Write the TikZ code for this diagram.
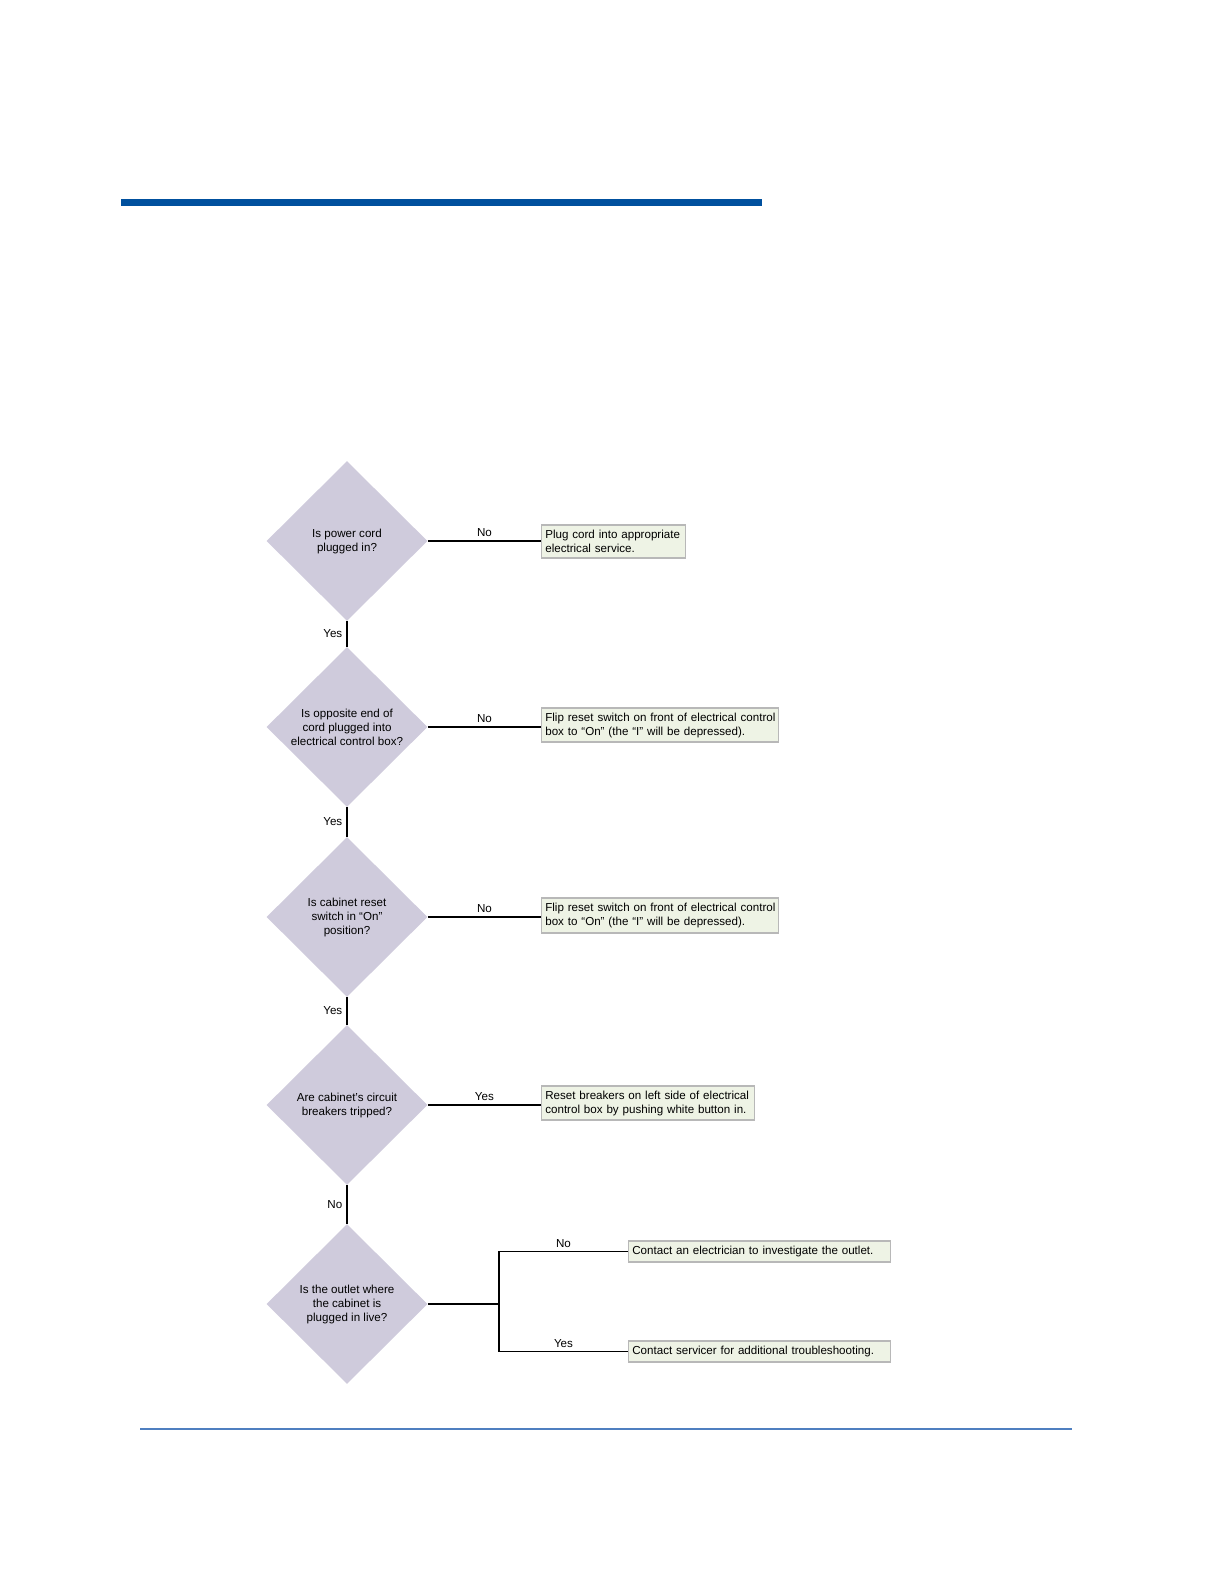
\documentclass[tikz,border=0pt]{standalone}
\usepackage{fontspec}
\setmainfont{Liberation Sans}
\usetikzlibrary{shapes.geometric}
\definecolor{dfill}{HTML}{CFCBDC}
\definecolor{bfill}{HTML}{EEF3E5}
\definecolor{bdraw}{HTML}{B8B8B8}
\definecolor{topblue}{HTML}{00509E}
\definecolor{botblue}{HTML}{4F7FC0}
\tikzset{
  dec/.style={diamond, aspect=1, fill=dfill, inner sep=0pt,
    minimum width=80.5pt, minimum height=80pt, align=center,
    font=\fontsize{5.8}{7}\selectfont},
  abox/.style={rectangle, fill=bfill, draw=bdraw, line width=0.7pt,
    anchor=west, align=left, inner xsep=1.8pt, inner ysep=1pt,
    font=\fontsize{5.8}{7}\selectfont},
  conn/.style={draw=black, line width=0.75pt},
  lbl/.style={font=\fontsize{5.8}{7}\selectfont, inner sep=2pt}
}
\begin{document}
\begin{tikzpicture}[x=0.5pt,y=-0.5pt]
\useasboundingbox (0,0) rectangle (1225,1585);
\fill[white] (0,0) rectangle (1225,1585);
% header bar and footer line
\fill[topblue] (121,199) rectangle (762,206);
\draw[botblue, line width=1pt] (140,1429) -- (1072,1429);

% decisions
\node[dec] (d1) at (347,541) {Is power cord\\plugged in?};
\node[dec] (d2) at (347,727) {Is opposite end of\\cord plugged into\\electrical control box?};
\node[dec] (d3) at (347,917) {Is cabinet reset\\switch in “On”\\position?};
\node[dec] (d4) at (347,1105) {Are cabinet’s circuit\\breakers tripped?};
\node[dec] (d5) at (347,1304) {Is the outlet where\\the cabinet is\\plugged in live?};

% action boxes
\node[abox, text width=68.4pt, minimum height=16.5pt] (b1) at (541,541.5)
  {\mbox{Plug cord into appropriate}\\\mbox{electrical service.}};
\node[abox, text width=114.9pt, minimum height=17pt] (b2) at (541,725)
  {\mbox{Flip reset switch on front of electrical control}\\\mbox{box to “On” (the “I” will be depressed).}};
\node[abox, text width=114.9pt, minimum height=17.5pt] (b3) at (541,915.5)
  {\mbox{Flip reset switch on front of electrical control}\\\mbox{box to “On” (the “I” will be depressed).}};
\node[abox, text width=102.9pt, minimum height=17pt] (b4) at (541,1103)
  {\mbox{Reset breakers on left side of electrical}\\\mbox{control box by pushing white button in.}};
\node[abox, text width=127.4pt, minimum height=10.5pt] (b5) at (628,1251.5)
  {\mbox{Contact an electrician to investigate the outlet.}};
\node[abox, text width=127.4pt, minimum height=10.5pt] (b6) at (628,1351.5)
  {\mbox{Contact servicer for additional troubleshooting.}};

% horizontal connectors
\draw[conn] (d1.east) -- (d1.east -| b1.west) node[lbl, midway, above] {No};
\draw[conn] (d2.east) -- (d2.east -| b2.west) node[lbl, midway, above] {No};
\draw[conn] (d3.east) -- (d3.east -| b3.west) node[lbl, midway, above] {No};
\draw[conn] (d4.east) -- (d4.east -| b4.west) node[lbl, midway, above] {Yes};

% vertical connectors
\draw[conn] (d1.south) -- (d2.north) node[lbl, midway, left] {Yes};
\draw[conn] (d2.south) -- (d3.north) node[lbl, midway, left] {Yes};
\draw[conn] (d3.south) -- (d4.north) node[lbl, midway, left] {Yes};
\draw[conn] (d4.south) -- (d5.north) node[lbl, midway, left] {No};

% final branch
\coordinate (br) at (499,1304);
\draw[conn] (d5.east) -- (br);
\draw[conn] (b5.west) -| (br) |- (b6.west);
\path (br |- b5.west) -- (b5.west) node[lbl, midway, above] {No};
\path (br |- b6.west) -- (b6.west) node[lbl, midway, above] {Yes};
\end{tikzpicture}
\end{document}
